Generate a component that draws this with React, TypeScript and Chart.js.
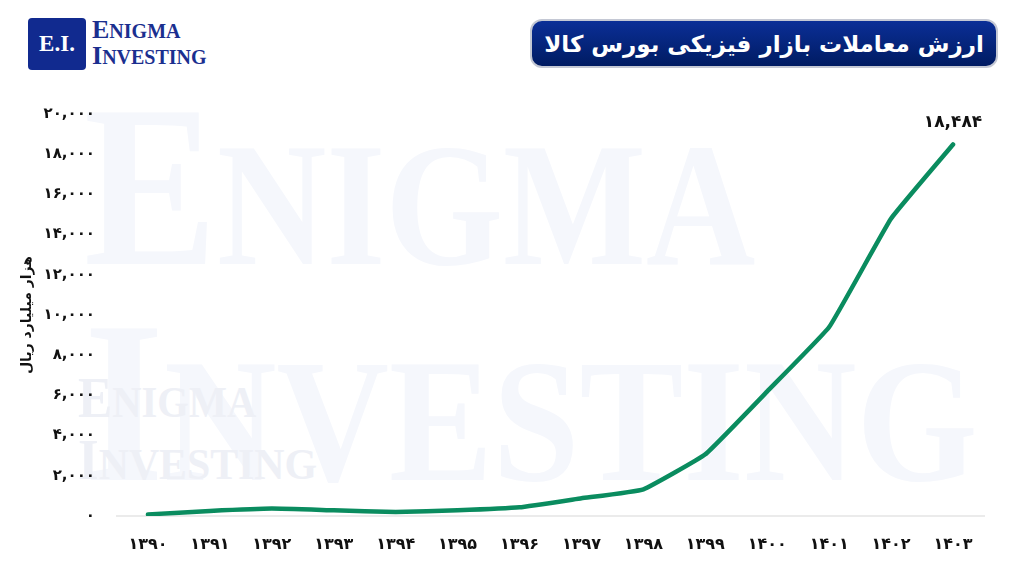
import React, { useEffect, useRef } from "react";
import { Chart, registerables } from "chart.js";

Chart.register(...registerables);

const years = ["1390","1391","1392","1393","1394","1395","1396","1397","1398","1399","1400","1401","1402","1403"];
const values = [80, 250, 370, 280, 200, 280, 430, 880, 1330, 3070, 6200, 9400, 14800, 18484];
const yTicksMax = 20000;
const yTickStep = 2000;
const titleText = "ارزش معاملات بازار فیزیکی بورس کالا";
const yAxisTitle = "هزار میلیارد ریال";

const FA_DIGITS = "۰۱۲۳۴۵۶۷۸۹";
function toFa(s: string): string {
  return s.replace(/[0-9]/g, (d) => FA_DIGITS[Number(d)]);
}
function fmt(n: number): string {
  return toFa(Math.round(n).toLocaleString("en-US"));
}

const FONT = "'DejaVu Sans', 'Noto Sans', sans-serif";
const SERIF = "'Liberation Serif', 'DejaVu Serif', serif";

const lastLabelPlugin = {
  id: "lastLabel",
  afterDatasetsDraw(chart: any) {
    const meta = chart.getDatasetMeta(0);
    const pt = meta.data[meta.data.length - 1];
    if (!pt) return;
    const ctx = chart.ctx;
    ctx.save();
    ctx.font = `bold 17px ${FONT}`;
    ctx.fillStyle = "#111";
    ctx.textAlign = "center";
    ctx.textBaseline = "middle";
    ctx.fillText(fmt(values[values.length - 1]), pt.x, pt.y - 22);
    ctx.restore();
  },
};

export default function App() {
  const ref = useRef<HTMLCanvasElement | null>(null);

  useEffect(() => {
    if (!ref.current) return;
    const chart = new Chart(ref.current, {
      type: "line",
      data: {
        labels: years.map(toFa),
        datasets: [
          {
            data: values,
            borderColor: "#0a8c5f",
            borderWidth: 4.5,
            borderCapStyle: "round",
            borderJoinStyle: "round",
            pointRadius: 0,
            tension: 0.1,
            fill: false,
          },
        ],
      },
      options: {
        responsive: false,
        animation: false,
        layout: { padding: { top: 114, right: 40, bottom: 0, left: 0 } },
        plugins: { legend: { display: false }, tooltip: { enabled: false } },
        scales: {
          x: {
            offset: true,
            grid: { display: false, drawTicks: false },
            border: { display: true, color: "#ebebeb", width: 2 },
            ticks: {
              color: "#111",
              font: { family: FONT, size: 16, weight: "bold" },
              padding: 19,
              maxRotation: 0,
              autoSkip: false,
            },
            afterFit: (s: any) => {
              s.height = 60;
            },
          },
          y: {
            min: 0,
            max: yTicksMax,
            grid: { display: false, drawTicks: false },
            border: { display: false },
            ticks: {
              stepSize: yTickStep,
              color: "#111",
              font: { family: FONT, size: 15, weight: "bold" },
              padding: 22,
              callback: (v: any) => fmt(Number(v)),
            },
            title: {
              display: true,
              text: yAxisTitle,
              color: "#111",
              font: { family: FONT, size: 14, weight: "bold" },
              padding: { top: 19, bottom: 0 },
            },
            afterFit: (s: any) => {
              s.width = 117;
            },
          },
        },
      },
      plugins: [lastLabelPlugin],
    });
    return () => chart.destroy();
  }, []);

  const wmBase: React.CSSProperties = {
    position: "absolute",
    fontFamily: SERIF,
    fontWeight: "bold",
    whiteSpace: "nowrap",
    lineHeight: 1,
    transformOrigin: "left top",
  };

  return (
    <div style={{ position: "absolute", left: 0, top: 0, width: 1024, height: 576, background: "#fff", overflow: "hidden" }}>
      {/* watermark */}
      <div style={{ ...wmBase, color: "#f5f7fc", transform: "scaleX(0.86)", left: 84, top: 70 }}>
        <span style={{ fontSize: 232 }}>E</span>
        <span style={{ fontSize: 176 }}>NIGMA</span>
      </div>
      <div style={{ ...wmBase, color: "#f5f7fc", transform: "scaleX(0.885)", left: 84, top: 286 }}>
        <span style={{ fontSize: 232 }}>I</span>
        <span style={{ fontSize: 176 }}>NVESTING</span>
      </div>
      <div style={{ ...wmBase, color: "#eef0f6", transform: "scaleX(0.92)", left: 78, top: 370 }}>
        <span style={{ fontSize: 56 }}>E</span>
        <span style={{ fontSize: 44 }}>NIGMA</span>
      </div>
      <div style={{ ...wmBase, color: "#eef0f6", transform: "scaleX(0.95)", left: 78, top: 432 }}>
        <span style={{ fontSize: 56 }}>I</span>
        <span style={{ fontSize: 44 }}>NVESTING</span>
      </div>

      {/* logo */}
      <div
        style={{
          position: "absolute",
          left: 28,
          top: 18,
          width: 58,
          height: 52,
          background: "#112a8f",
          borderRadius: 4,
          color: "#fff",
          fontFamily: SERIF,
          fontWeight: "bold",
          fontSize: 23,
          display: "flex",
          alignItems: "center",
          justifyContent: "center",
        }}
      >
        E.I.
      </div>
      <div
        style={{
          position: "absolute",
          left: 92,
          top: 18,
          color: "#1b2f8f",
          fontFamily: SERIF,
          fontWeight: "bold",
          lineHeight: "23px",
          whiteSpace: "nowrap",
        }}
      >
        <div>
          <span style={{ fontSize: 26 }}>E</span>
          <span style={{ fontSize: 20 }}>NIGMA</span>
        </div>
        <div>
          <span style={{ fontSize: 26 }}>I</span>
          <span style={{ fontSize: 20 }}>NVESTING</span>
        </div>
      </div>

      {/* title pill */}
      <div
        style={{
          position: "absolute",
          left: 530,
          top: 19,
          width: 468,
          height: 49,
          boxSizing: "border-box",
          borderRadius: 12,
          border: "2px solid #c4c8d4",
          background: "linear-gradient(#0b2f97, #001b62)",
          color: "#fff",
          fontFamily: FONT,
          fontWeight: "bold",
          fontSize: 23,
          display: "flex",
          alignItems: "center",
          justifyContent: "center",
          direction: "rtl",
          whiteSpace: "nowrap",
        }}
      >
        {titleText}
      </div>

      <canvas ref={ref} width={1024} height={576} style={{ position: "absolute", left: 0, top: 0, width: 1024, height: 576 }} />
    </div>
  );
}
